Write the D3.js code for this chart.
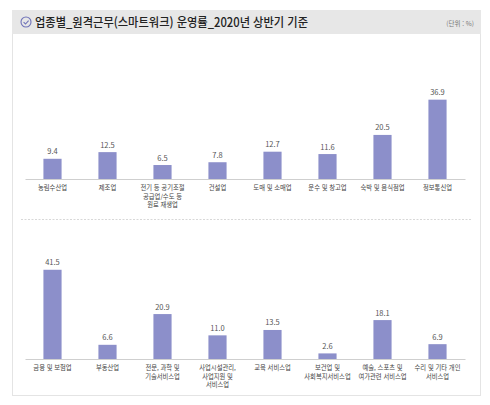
<!DOCTYPE html>
<html lang="ko">
<head>
<meta charset="utf-8">
<title>업종별 원격근무 운영률</title>
<script src="https://d3js.org/d3.v7.min.js"></script>
<style>
  body { margin: 0; background: #fff; }
  text { font-family: "Noto Sans CJK KR", "Noto Sans", sans-serif; }
</style>
</head>
<body>
<script>
// 상단 업종
var topCats = ["농림수산업", "제조업", "전기 등 공기조절|공급업/수도 등|원료 재생업", "건설업",
               "도매 및 소매업", "운수 및 창고업", "숙박 및 음식점업", "정보통신업"];
var topVals = [9.4, 12.5, 6.5, 7.8, 12.7, 11.6, 20.5, 36.9];

// 하단 업종
var botCats = ["금융 및 보험업", "부동산업", "전문, 과학 및|기술서비스업", "사업시설관리,|사업지원 및|서비스업",
               "교육 서비스업", "보건업 및|사회복지서비스업", "예술, 스포츠 및|여가관련 서비스업", "수리 및 기타 개인|서비스업"];
var botVals = [41.5, 6.6, 20.9, 11.0, 13.5, 2.6, 18.1, 6.9];

var w = 490, h = 405;
var barColor = "#8c8fca";

var svg = d3.select("body").append("svg")
    .attr("width", w)
    .attr("height", h);

// panel
svg.append("rect")
    .attr("x", 12.5).attr("y", 10.5)
    .attr("width", 468).attr("height", 385)
    .attr("fill", "#fff")
    .attr("stroke", "#e4e4e4");

// header band
svg.append("rect")
    .attr("x", 12).attr("y", 10)
    .attr("width", 469).attr("height", 24)
    .attr("fill", "#e7e7e7");

// check icon
svg.append("circle")
    .attr("cx", 26).attr("cy", 22).attr("r", 5)
    .attr("fill", "none").attr("stroke", "#6f72b8").attr("stroke-width", 1.1);
svg.append("path")
    .attr("d", "M23.6,22.2 L25.5,24 L28.6,20.6")
    .attr("fill", "none").attr("stroke", "#6f72b8").attr("stroke-width", 1.1);

svg.append("text")
    .attr("x", 35).attr("y", 27)
    .attr("fill", "#222")
    .attr("textLength", 273)
    .attr("lengthAdjust", "spacingAndGlyphs")
    .style("font-size", "12.5px")
    .style("font-weight", "500")
    .text("업종별_원격근무(스마트워크) 운영률_2020년 상반기 기준");

svg.append("text")
    .attr("x", 474).attr("y", 25.5)
    .attr("text-anchor", "end")
    .attr("fill", "#777")
    .style("font-size", "6.5px")
    .text("(단위 : %)");

// dashed separator
svg.append("line")
    .attr("x1", 21).attr("x2", 472)
    .attr("y1", 219.5).attr("y2", 219.5)
    .attr("stroke", "#d8d8d8")
    .attr("stroke-dasharray", "2,1.5");

var x = d3.scaleBand()
    .domain(d3.range(8))
    .range([25, 465])
    .paddingInner(0.67)
    .paddingOuter(0.335);

var pxPerUnit = 2.15;

function drawPanel(cats, vals, base) {
  var y = d3.scaleLinear()
      .domain([0, 45])
      .range([base, base - 45 * pxPerUnit]);

  var g = svg.append("g");

  g.selectAll(".bar")
    .data(vals)
    .enter().append("rect")
    .attr("class", "bar")
    .attr("x", function(d, i) { return x(i); })
    .attr("width", x.bandwidth())
    .attr("y", function(d) { return y(d); })
    .attr("height", function(d) { return y(0) - y(d); })
    .attr("fill", barColor);

  g.selectAll(".val")
    .data(vals)
    .enter().append("text")
    .attr("class", "val")
    .attr("x", function(d, i) { return x(i) + x.bandwidth() / 2; })
    .attr("y", function(d) { return y(d) - 4.5; })
    .attr("text-anchor", "middle")
    .attr("fill", "#555")
    .style("font-size", "7.5px")
    .text(function(d) { return d.toFixed(1); });

  var axis = g.append("g")
    .attr("transform", "translate(0," + base + ")")
    .call(d3.axisBottom(x).tickSize(0).tickFormat(""));
  axis.select(".domain").attr("stroke", "#cfcfcf");

  axis.selectAll(".tick").each(function(i) {
    var t = d3.select(this).append("text")
      .attr("y", 11)
      .attr("text-anchor", "middle")
      .attr("fill", "#444")
      .style("font-size", "6.3px");
    cats[i].split("|").forEach(function(line, k) {
      t.append("tspan")
        .attr("x", 0)
        .attr("dy", k === 0 ? 0 : 8.6)
        .text(line);
    });
  });
}

drawPanel(topCats, topVals, 179);
drawPanel(botCats, botVals, 359);
</script>
</body>
</html>
